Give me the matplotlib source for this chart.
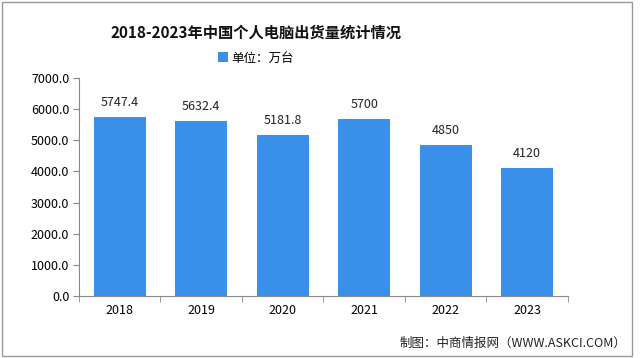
import matplotlib
matplotlib.use('Agg')
from matplotlib import pyplot as plt
import numpy as np

plt.rcParams['font.family'] = ['Noto Sans CJK SC', 'DejaVu Sans']

years = ['2018', '2019', '2020', '2021', '2022', '2023']
shipments = [5747.4, 5632.4, 5181.8, 5700, 4850, 4120]
labels = ['5747.4', '5632.4', '5181.8', '5700', '4850', '4120']
yticks = [0, 1000, 2000, 3000, 4000, 5000, 6000, 7000]

bar_color = '#3A8FE8'

fig = plt.figure(figsize=(6.4, 3.58), dpi=100)
ax = fig.add_axes([0.1234, 0.173, 0.7641, 0.609])

x = np.arange(len(years))
ax.bar(x, shipments, width=0.64, color=bar_color, label='单位：万台')
for xi, v, t in zip(x, shipments, labels):
    ax.text(xi, v + 250, t, ha='center', va='bottom', fontsize=9, color='#222222')

ax.set_xlim(-0.5, len(years) - 0.5)
ax.set_ylim(0, 7000)
ax.set_yticks(yticks)
ax.set_yticklabels(['%.1f' % v for v in yticks], fontsize=9)
ax.set_xticks(x)
ax.set_xticklabels(years, fontsize=9)
ax.tick_params(axis='x', length=0, pad=6)
ax.set_xticks(np.arange(-0.5, len(years)), minor=True)
ax.tick_params(axis='x', which='minor', length=4, color='#888888')
ax.tick_params(axis='y', length=4, color='#888888', pad=3)
for s in ['top', 'right']:
    ax.spines[s].set_visible(False)
for s in ['left', 'bottom']:
    ax.spines[s].set_color('#888888')

fig.text(0.40, 0.91, '2018-2023年中国个人电脑出货量统计情况', ha='center', va='center',
         fontsize=11, fontweight='bold', color='#111111')
fig.legend(loc='center', bbox_to_anchor=(0.40, 0.838), frameon=False, fontsize=9,
           handlelength=0.8, handleheight=0.8, handletextpad=0.3)
fig.text(0.978, 0.042, '制图：中商情报网（WWW.ASKCI.COM）', ha='right', va='center',
         fontsize=9, color='#222222')

# outer frame
fig.patches.append(plt.Rectangle((0.003, 0.005), 0.984, 0.99, transform=fig.transFigure,
                                 fill=False, edgecolor='#999999', linewidth=1))

fig.savefig('out.png', dpi=100)
